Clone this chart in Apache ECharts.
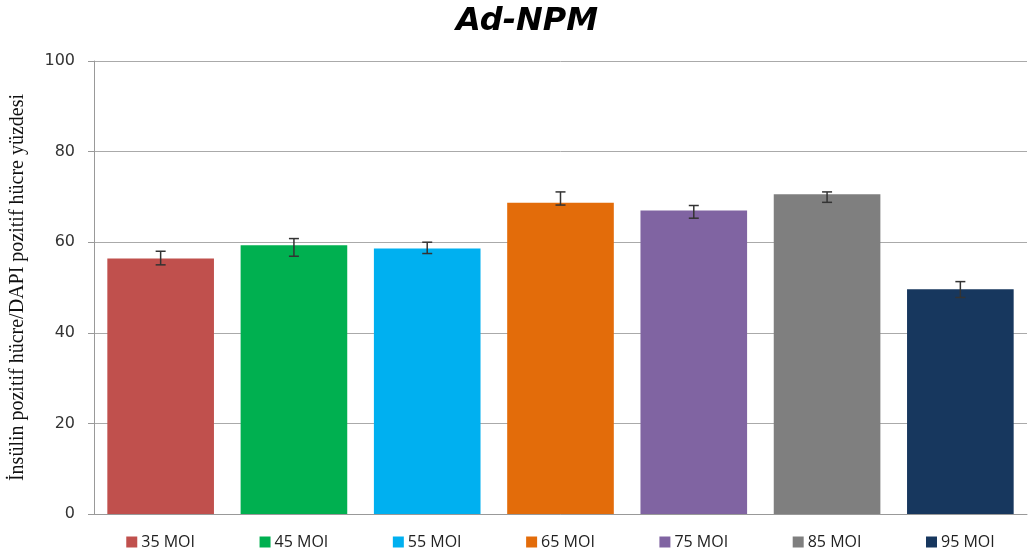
<!DOCTYPE html>
<html><head><meta charset="utf-8">
<script src="https://cdn.jsdelivr.net/npm/echarts@6/dist/echarts.min.js"></script>
<style>html,body{margin:0;padding:0;background:#fff}#c{width:1028px;height:556px}</style>
</head><body><div id="c"></div>
<script>
var categories = ['35 MOI','45 MOI','55 MOI','65 MOI','75 MOI','85 MOI','95 MOI'];
var values = [56.4, 59.3, 58.6, 68.7, 67.0, 70.6, 49.6];
var errLow = [55.0, 56.9, 57.5, 68.2, 65.3, 68.8, 47.8];
var errHigh = [58.0, 60.8, 60.0, 71.1, 68.1, 71.1, 51.3];
var colors = ['#C0504D','#00B050','#00B0F0','#E36C0A','#8064A2','#7F7F7F','#17375E'];
var yTicks = [0,20,40,60,80,100];

var chart = echarts.init(document.getElementById('c'));
var rich = {};
colors.forEach(function(c,i){ rich['s'+i] = {backgroundColor:c, width:11, height:11}; });
rich.t = {fontSize:16, color:'#222', fontFamily:'Open Sans', padding:[0,0,0,4]};

var series = categories.map(function(cat,i){
  var d = categories.map(function(_,j){ return j===i ? values[j] : '-'; });
  return {type:'bar', name:cat, stack:'all', data:d, barWidth:'80%',
    itemStyle:{color:colors[i]}, silent:true};
});
series.push({
  type:'custom', silent:true, z:10,
  data: categories.map(function(_,i){ return [i, errLow[i], errHigh[i]]; }),
  renderItem:function(params, api){
    var x = api.value(0);
    var lo = api.coord([x, api.value(1)]);
    var hi = api.coord([x, api.value(2)]);
    var w = 5;
    var st = {stroke:'#333', lineWidth:1.5};
    return {type:'group', children:[
      {type:'line', shape:{x1:lo[0],y1:lo[1],x2:hi[0],y2:hi[1]}, style:st},
      {type:'line', shape:{x1:lo[0]-w,y1:lo[1],x2:lo[0]+w,y2:lo[1]}, style:st},
      {type:'line', shape:{x1:hi[0]-w,y1:hi[1],x2:hi[0]+w,y2:hi[1]}, style:st}
    ]};
  }
});

chart.setOption({
  animation:false,
  title:{text:'Ad-NPM', left:522, textAlign:'center', top:1,
    textStyle:{fontFamily:'DejaVu Sans', fontSize:32, fontWeight:'bold', fontStyle:'italic', color:'#000'}},
  grid:{left:94, right:1, top:61, bottom:42, containLabel:false, outerBoundsMode:'none'},
  xAxis:{type:'category', data:categories,
    axisLine:{show:true, lineStyle:{color:'#999'}},
    axisTick:{show:false},
    axisLabel:{margin:20, interval:0,
      formatter:function(v, i){ return '{s'+i+'|}{t|'+v+'}'; }, rich:rich}
  },
  yAxis:{type:'value', min:yTicks[0], max:yTicks[yTicks.length-1], interval:20,
    name:'İnsülin pozitif hücre/DAPI pozitif hücre yüzdesi',
    nameLocation:'middle', nameGap:66, nameRotate:90,
    nameTextStyle:{fontFamily:'Liberation Serif', fontSize:20, color:'#111'},
    axisLine:{show:true, lineStyle:{color:'#999'}},
    axisTick:{show:true, length:6, lineStyle:{color:'#999'}},
    axisLabel:{fontFamily:'DejaVu Sans', fontSize:16, color:'#333', margin:19},
    splitLine:{lineStyle:{color:'#aaa'}}
  },
  series:series
});
</script></body></html>
